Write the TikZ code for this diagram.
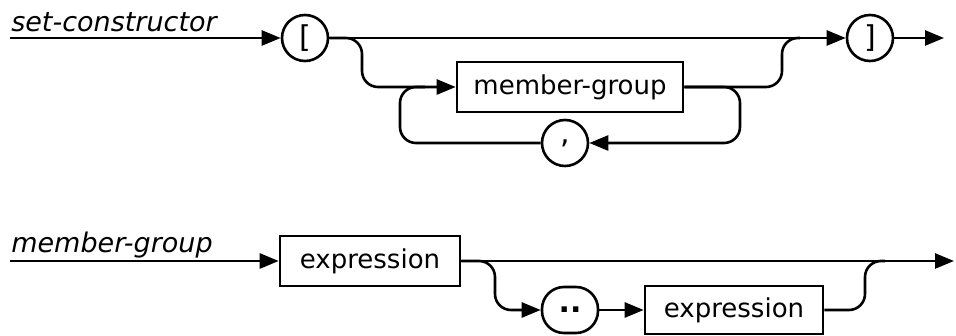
\documentclass[tikz,border=0pt]{standalone}
\usepackage{fontspec}
\setmainfont{DejaVu Sans}
\usetikzlibrary{positioning,arrows.meta}

\begin{document}
\begin{tikzpicture}[x=1pt, y=-1pt, line width=2.6pt,
    >={Triangle[length=19pt,width=15pt]},
    font=\fontsize{26}{30}\selectfont,
    term/.style={draw, circle, minimum size=46pt, inner sep=0pt, font=\fontsize{30}{30}\selectfont},
    oval/.style={draw, rounded corners=22pt, minimum width=56pt, minimum height=46pt, inner sep=0pt, font=\fontsize{30}{30}\selectfont\bfseries},
    nonterm/.style={draw, minimum height=50pt, inner sep=0pt},
    rulename/.style={anchor=base west, inner sep=0pt, font=\fontsize{27}{30}\selectfont\itshape}]
    \useasboundingbox (0,0) rectangle (956,336);
    % set-constructor
    \node[rulename] (sc) at (10,32) {set-constructor};
    \coordinate (s1) at (10,38);
    \node[term] (lb) at (305,38) {[};
    \node[nonterm, minimum width=226pt] (mg) at (570,87) {member-group};
    \node[term] (cm) at (565,143) {,};
    \node[term] (rb) at (870,38) {]};
    \coordinate (e1) at (944,38);
    \draw[->] (s1) -- (lb);
    \draw[->] (lb) -- (rb);
    \draw[->] (rb) -- (e1);
    \draw[->, rounded corners=16pt] (lb.east) -- (362,38) |- (mg.west);
    \draw[rounded corners=16pt] (mg.east) -| (782,38) -- (800,38);
    \draw[->, rounded corners=16pt] (mg.east) -- (740,87) |- (cm.east);
    \draw[rounded corners=16pt] (cm.west) -| (400,87) -- (425,87);
    % member-group
    \node[rulename] (mgr) at (10,253) {member-group};
    \coordinate (s2) at (10,261);
    \node[nonterm, minimum width=180pt] (ex1) at (370,261) {expression};
    \node[oval] (dd) at (570,310) {..};
    \node[nonterm, minimum width=178pt, minimum height=48pt] (ex2) at (734,310) {expression};
    \coordinate (e2) at (954,261);
    \draw[->] (s2) -- (ex1);
    \draw[->] (ex1) -- (e2);
    \draw[->, rounded corners=16pt] (ex1.east) -- (495,261) |- (dd.west);
    \draw[->] (dd) -- (ex2);
    \draw[rounded corners=16pt] (ex2.east) -| (865,261) -- (885,261);
\end{tikzpicture}
\end{document}
